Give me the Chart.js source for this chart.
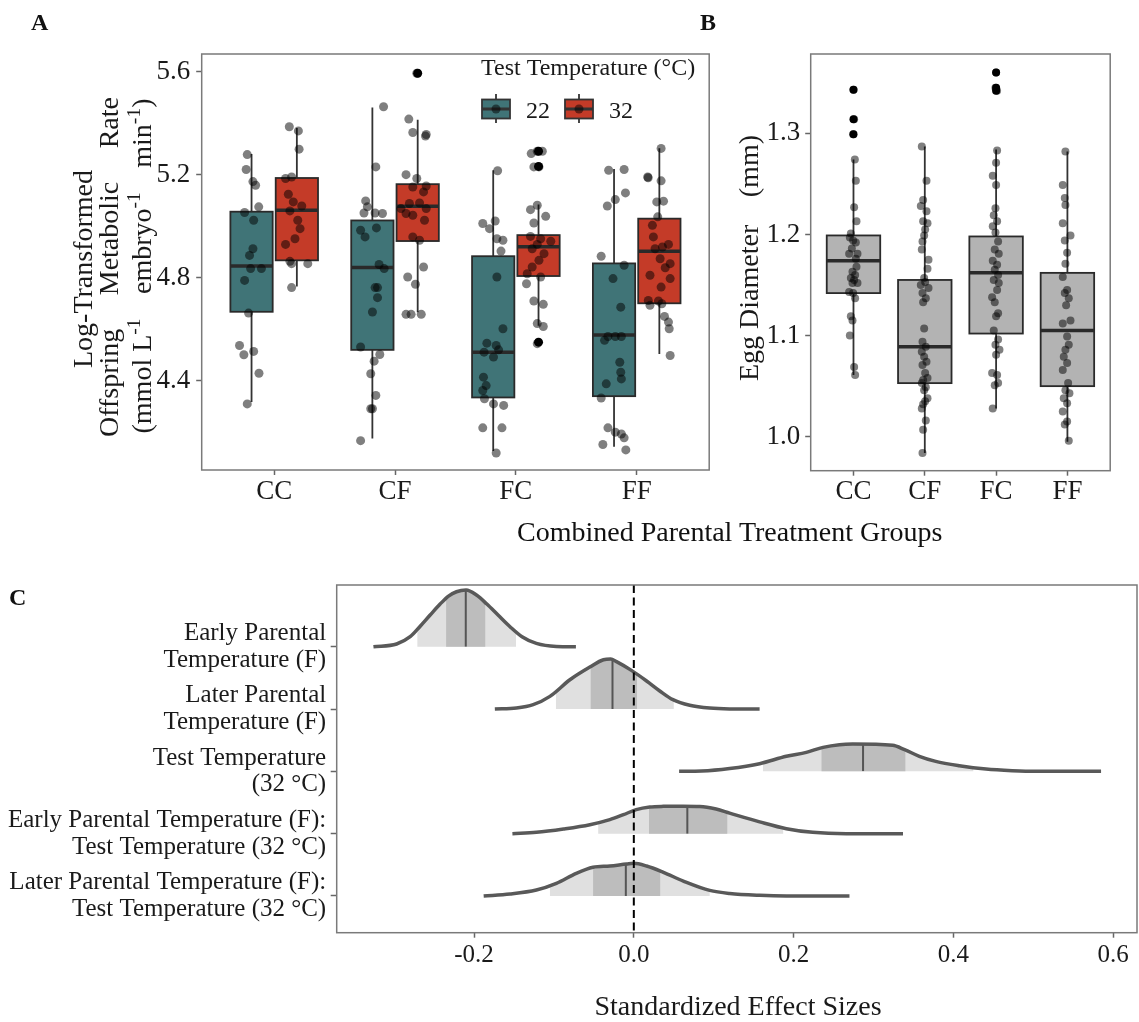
<!DOCTYPE html>
<html>
<head>
<meta charset="utf-8">
<script src="https://cdn.jsdelivr.net/npm/chart.js@4.4.1/dist/chart.umd.min.js"></script>
<style>
  body { margin: 0; background: #fff; }
  #wrap { position: relative; width: 1139px; height: 1022px; overflow: hidden; font-family: 'Liberation Serif', 'Times New Roman', serif; color: #111; }
  canvas { position: absolute; }
  .lbl { position: absolute; line-height: 1; white-space: nowrap; }
</style>
</head>
<body>
<div id="wrap">
  <canvas id="chartA" width="720" height="560" style="left:0;top:0"></canvas>
  <canvas id="chartB" width="419" height="560" style="left:720px;top:0"></canvas>
  <canvas id="chartC" width="1139" height="452" style="left:0;top:570px"></canvas>
  <div class="lbl" style="left:31px;top:10px;font-size:24px;font-weight:bold">A</div>
  <div class="lbl" style="left:700px;top:10px;font-size:24px;font-weight:bold">B</div>
  <div class="lbl" style="left:9px;top:585px;font-size:24px;font-weight:bold">C</div>
  <div class="lbl" style="left:517px;top:518px;font-size:28px">Combined Parental Treatment Groups</div>
</div>
<script>
'use strict';

const groups = ['CC', 'CF', 'FC', 'FF'];
const temps = ['22', '32'];
const tickA = [4.4, 4.8, 5.2, 5.6];
const tickB = [1.0, 1.1, 1.2, 1.3];
const tickC = [-0.2, 0.0, 0.2, 0.4, 0.6];

// [lower whisker, q1, median, q3, upper whisker] per group
const box22 = [[4.316, 4.667, 4.845, 5.056, 5.28], [4.174, 4.519, 4.839, 5.022, 5.461], [4.126, 4.334, 4.51, 4.883, 5.217], [4.142, 4.339, 4.577, 4.855, 5.222]];
const box32 = [[4.765, 4.867, 5.062, 5.187, 5.381], [4.665, 4.942, 5.077, 5.163, 5.413], [4.613, 4.806, 4.92, 4.965, 5.084], [4.503, 4.70, 4.902, 5.029, 5.303]];
// outliers: [group, value]
const out32 = [[2, 5.594], [3, 5.291], [3, 5.232], [3, 4.549]];

const pts22 = [
  [0.777, 5.278], [0.768, 5.220], [0.824, 5.173], [0.846, 5.159], [0.872, 5.075], [0.755, 5.053], [0.830, 5.023], [0.824, 4.912], [0.796, 4.886], [0.805, 4.835], [0.894, 4.835], [0.755, 4.789], [0.788, 4.662], [0.713, 4.536], [0.749, 4.500], [0.830, 4.513], [0.874, 4.428], [0.777, 4.309],
  [1.905, 5.464], [1.841, 5.230], [1.757, 5.098], [1.771, 5.075], [1.743, 5.051], [1.835, 5.051], [1.896, 5.049], [1.846, 4.993], [1.715, 4.984], [1.752, 4.958], [1.868, 4.851], [1.910, 4.835], [1.835, 4.761], [1.855, 4.761], [1.855, 4.722], [1.813, 4.666], [1.715, 4.530], [1.874, 4.501], [1.827, 4.475], [1.799, 4.426], [1.841, 4.342], [1.799, 4.290], [1.813, 4.290], [1.715, 4.166],
  [2.849, 5.215], [2.726, 5.010], [2.829, 5.020], [2.782, 4.990], [2.843, 4.951], [2.893, 4.945], [2.877, 4.903], [2.843, 4.802], [2.893, 4.601], [2.760, 4.545], [2.837, 4.536], [2.857, 4.519], [2.737, 4.510], [2.815, 4.491], [2.732, 4.413], [2.754, 4.380], [2.726, 4.361], [2.740, 4.329], [2.815, 4.309], [2.899, 4.303], [2.726, 4.216], [2.885, 4.216], [2.837, 4.118],
  [3.768, 5.217], [3.896, 5.220], [3.907, 5.129], [3.823, 5.103], [3.757, 5.078], [3.706, 4.883], [3.896, 4.848], [3.804, 4.796], [3.868, 4.685], [3.762, 4.571], [3.823, 4.571], [3.873, 4.571], [3.734, 4.556], [3.860, 4.471], [3.868, 4.432], [3.873, 4.406], [3.748, 4.387], [3.706, 4.332], [3.762, 4.216], [3.823, 4.199], [3.873, 4.192], [3.896, 4.177], [3.720, 4.151], [3.910, 4.130]
];
const pts32 = [
  [1.125, 5.386], [1.200, 5.370], [1.206, 5.299], [1.094, 5.185], [1.144, 5.191], [1.117, 5.124], [1.158, 5.094], [1.228, 5.078], [1.130, 5.059], [1.195, 5.023], [1.214, 4.990], [1.172, 4.951], [1.094, 4.929], [1.130, 4.863], [1.278, 4.854], [1.144, 4.854], [1.144, 4.761],
  [2.180, 5.594], [2.114, 5.416], [2.147, 5.364], [2.258, 5.356], [2.252, 5.350], [2.091, 5.200], [2.180, 5.185], [2.258, 5.156], [2.147, 5.152], [2.236, 5.133], [2.203, 5.090], [2.119, 5.088], [2.049, 5.068], [2.258, 5.068], [2.091, 5.049], [2.147, 5.042], [2.244, 5.023], [2.147, 4.958], [2.203, 4.945], [2.236, 4.841], [2.105, 4.802], [2.169, 4.774], [2.091, 4.657], [2.133, 4.657], [2.217, 4.657],
  [3.177, 5.291], [3.127, 5.282], [3.219, 5.291], [3.149, 5.230], [3.191, 5.230], [3.177, 5.081], [3.121, 5.064], [3.247, 5.038], [3.149, 5.012], [3.121, 4.960], [3.205, 4.951], [3.289, 4.941], [3.177, 4.929], [3.135, 4.912], [3.233, 4.893], [3.191, 4.867], [3.135, 4.841], [3.094, 4.815], [3.205, 4.802], [3.088, 4.776], [3.149, 4.709], [3.227, 4.696], [3.177, 4.621], [3.227, 4.610], [3.177, 4.543],
  [4.202, 5.302], [4.091, 5.191], [4.095, 5.188], [4.202, 5.176], [4.166, 5.094], [4.222, 5.097], [4.174, 5.036], [4.130, 5.003], [4.138, 4.958], [4.213, 4.919], [4.263, 4.929], [4.152, 4.912], [4.194, 4.873], [4.277, 4.854], [4.236, 4.838], [4.110, 4.809], [4.277, 4.796], [4.202, 4.763], [4.096, 4.711], [4.180, 4.709], [4.208, 4.698], [4.110, 4.692], [4.230, 4.649], [4.263, 4.627], [4.269, 4.601], [4.277, 4.497]
];

const boxEgg = [[1.061, 1.142, 1.174, 1.199, 1.274], [0.984, 1.053, 1.089, 1.155, 1.287], [1.028, 1.102, 1.162, 1.198, 1.284], [0.995, 1.050, 1.105, 1.162, 1.282]];
const outEgg = [[1, 1.343], [1, 1.314], [1, 1.299], [3, 1.360], [3, 1.345], [3, 1.342]];
const ptsEgg = [
  [1.000, 1.343], [1.009, 1.314], [0.995, 1.299], [1.019, 1.274], [1.033, 1.253], [1.009, 1.227], [1.042, 1.213], [0.963, 1.201], [0.949, 1.197], [0.995, 1.194], [1.033, 1.192], [0.977, 1.186], [0.939, 1.181], [1.056, 1.181], [1.033, 1.176], [1.042, 1.168], [0.986, 1.163], [1.023, 1.160], [0.963, 1.157], [1.009, 1.155], [0.986, 1.152], [1.056, 1.152], [0.939, 1.143], [0.995, 1.142], [1.023, 1.137], [0.963, 1.119], [0.986, 1.115], [0.949, 1.100], [1.009, 1.069], [1.023, 1.061],
  [1.958, 1.287], [2.024, 1.253], [1.977, 1.234], [1.944, 1.228], [2.024, 1.223], [1.977, 1.213], [2.038, 1.211], [2.005, 1.205], [1.991, 1.199], [1.968, 1.193], [1.958, 1.185], [2.052, 1.175], [2.038, 1.166], [1.991, 1.157], [2.005, 1.153], [1.944, 1.150], [2.052, 1.147], [1.968, 1.142], [2.014, 1.137], [1.977, 1.133], [1.991, 1.107], [1.968, 1.094], [2.014, 1.089], [1.958, 1.084], [1.991, 1.079], [2.024, 1.074], [1.968, 1.071], [2.005, 1.063], [2.038, 1.058], [1.977, 1.056], [1.958, 1.053], [2.014, 1.049], [1.991, 1.046], [2.038, 1.038], [2.005, 1.035], [1.977, 1.032], [1.958, 1.028], [2.014, 1.016], [1.977, 1.007], [1.968, 0.984],
  [3.000, 1.360], [2.991, 1.345], [3.014, 1.342], [3.014, 1.283], [3.000, 1.271], [2.953, 1.258], [3.000, 1.249], [2.991, 1.226], [2.967, 1.219], [3.014, 1.213], [2.953, 1.208], [2.991, 1.202], [3.028, 1.193], [2.981, 1.185], [3.037, 1.181], [2.953, 1.174], [3.014, 1.170], [2.981, 1.165], [3.028, 1.160], [2.967, 1.155], [3.037, 1.152], [3.014, 1.145], [2.944, 1.138], [2.981, 1.133], [3.028, 1.122], [3.000, 1.119], [2.967, 1.105], [3.028, 1.096], [2.991, 1.091], [3.047, 1.086], [3.000, 1.081], [2.944, 1.063], [3.014, 1.061], [2.981, 1.051], [3.028, 1.053], [2.953, 1.028],
  [3.972, 1.282], [3.935, 1.249], [3.963, 1.236], [3.972, 1.229], [3.935, 1.211], [4.043, 1.199], [3.963, 1.194], [3.996, 1.182], [3.972, 1.171], [3.935, 1.158], [3.996, 1.145], [3.963, 1.142], [4.019, 1.137], [3.982, 1.130], [3.935, 1.112], [4.043, 1.115], [3.996, 1.099], [4.019, 1.091], [3.972, 1.086], [3.949, 1.079], [3.996, 1.073], [3.935, 1.066], [4.010, 1.053], [3.972, 1.046], [4.028, 1.043], [3.949, 1.038], [3.996, 1.033], [3.935, 1.025], [3.996, 1.015], [3.963, 1.012], [4.019, 0.996]
];

// panel C, top row first
const effects = [
  ['Early Parental', 'Temperature (F)'],
  ['Later Parental', 'Temperature (F)'],
  ['Test Temperature', '(32 °C)'],
  ['Early Parental Temperature (F):', 'Test Temperature (32 °C)'],
  ['Later Parental Temperature (F):', 'Test Temperature (32 °C)']
];
// [effect size, ridge height]
const ridgeEarly = [[-0.326, 0], [-0.297, 0.043], [-0.280, 0.160], [-0.268, 0.321], [-0.255, 0.508], [-0.2425, 0.684], [-0.232, 0.813], [-0.222, 0.882], [-0.210, 0.909], [-0.197, 0.829], [-0.184, 0.684], [-0.170, 0.508], [-0.155, 0.321], [-0.140, 0.160], [-0.122, 0.053], [-0.097, 0.005], [-0.0725, 0]];
const ridgeLater = [[-0.174, 0], [-0.147, 0.016], [-0.126, 0.070], [-0.105, 0.203], [-0.080, 0.470], [-0.055, 0.674], [-0.038, 0.791], [-0.029, 0.802], [-0.0217, 0.760], [-0.003, 0.620], [0.016, 0.450], [0.0325, 0.290], [0.049, 0.150], [0.070, 0.060], [0.095, 0.015], [0.120, 0.002], [0.1575, 0]];
const ridgeTest = [[0.0567, 0], [0.085, 0.005], [0.12, 0.045], [0.1575, 0.123], [0.191, 0.241], [0.216, 0.305], [0.237, 0.385], [0.2575, 0.428], [0.274, 0.438], [0.324, 0.417], [0.339, 0.348], [0.3575, 0.241], [0.378, 0.160], [0.4075, 0.091], [0.441, 0.037], [0.474, 0.011], [0.503, 0], [0.585, 0]];
const ridgeEarlyTest = [[-0.152, 0], [-0.122, 0.021], [-0.088, 0.075], [-0.055, 0.144], [-0.030, 0.225], [-0.013, 0.305], [0.003, 0.385], [0.020, 0.428], [0.037, 0.438], [0.062, 0.440], [0.0825, 0.436], [0.103, 0.395], [0.12, 0.33], [0.1575, 0.19], [0.191, 0.08], [0.224, 0.021], [0.266, 0], [0.337, 0]];
const ridgeLaterTest = [[-0.188, 0], [-0.155, 0.032], [-0.122, 0.096], [-0.097, 0.203], [-0.072, 0.364], [-0.051, 0.460], [-0.030, 0.481], [-0.009, 0.513], [0.0, 0.524], [0.016, 0.481], [0.037, 0.380], [0.062, 0.240], [0.095, 0.090], [0.12, 0.040], [0.1575, 0.010], [0.191, 0], [0.27, 0]];
const ridges = [ridgeEarly, ridgeLater, ridgeTest, ridgeEarlyTest, ridgeLaterTest];
// [outer low, inner low, median, inner high, outer high]
const bands = [[-0.271, -0.235, -0.2104, -0.186, -0.1475], [-0.0975, -0.054, -0.0267, 0.004, 0.050], [0.1617, 0.235, 0.287, 0.340, 0.425], [-0.0446, 0.019, 0.067, 0.117, 0.187], [-0.105, -0.051, -0.010, 0.033, 0.095]];

const serif = "'Liberation Serif', 'Times New Roman', serif";
const teal = '#407477';
const red = '#c43b28';
const ink = '#1a1a1a';

function fixTicks(values) {
  return scale => { scale.ticks = values.map(v => ({ value: v })); };
}

function axis(min, max, values, label, size, pad, fitKey, fitVal, tickLen) {
  return {
    type: 'linear', min: min, max: max,
    afterBuildTicks: fixTicks(values),
    afterFit: s => {
      s[fitKey] = fitVal;
      s.paddingTop = 0; s.paddingBottom = 0; s.paddingLeft = 0; s.paddingRight = 0;
    },
    ticks: { callback: label, font: { family: serif, size: size, lineHeight: 1.07 }, color: ink, padding: pad, autoSkip: false, maxRotation: 0 },
    grid: { drawOnChartArea: false, tickLength: tickLen, tickColor: '#666', tickWidth: 1.5 },
    border: { display: false }
  };
}

const frame = {
  id: 'frame',
  afterDraw(chart) {
    const { ctx, chartArea: a } = chart;
    ctx.save();
    ctx.strokeStyle = '#7a7a7a';
    ctx.lineWidth = 1.5;
    ctx.strokeRect(a.left, a.top, a.right - a.left, a.bottom - a.top);
    ctx.restore();
  }
};

function boxLayer(series) {
  return {
    id: 'boxLayer',
    beforeDatasetsDraw(chart) {
      const { ctx, scales: { x, y } } = chart;
      ctx.save();
      series.forEach(s => {
        s.stats.forEach((st, i) => {
          const c = i + 1 + s.shift;
          const l = x.getPixelForValue(c - s.width / 2);
          const r = x.getPixelForValue(c + s.width / 2);
          const m = x.getPixelForValue(c);
          const [lo, q1, med, q3, hi] = st.map(v => y.getPixelForValue(v));
          ctx.strokeStyle = '#333';
          ctx.lineWidth = 1.8;
          ctx.beginPath();
          ctx.moveTo(m, lo); ctx.lineTo(m, q1);
          ctx.moveTo(m, q3); ctx.lineTo(m, hi);
          ctx.stroke();
          ctx.fillStyle = s.fill;
          ctx.fillRect(l, q3, r - l, q1 - q3);
          ctx.strokeStyle = '#2a2a2a';
          ctx.strokeRect(l, q3, r - l, q1 - q3);
          ctx.lineWidth = 3.5;
          ctx.beginPath(); ctx.moveTo(l, med); ctx.lineTo(r, med); ctx.stroke();
        });
      });
      ctx.restore();
    }
  };
}

function runWidth(ctx, run, size) {
  return run.reduce((w, [t, sup]) => {
    ctx.font = (sup ? size * 0.7 : size) + 'px ' + serif;
    return w + ctx.measureText(t).width;
  }, 0);
}

function drawRun(ctx, run, x, size) {
  run.forEach(([t, sup]) => {
    ctx.font = (sup ? size * 0.7 : size) + 'px ' + serif;
    ctx.fillText(t, x, sup ? -size * 0.4 : 0);
    x += ctx.measureText(t).width;
  });
}

function justifyRotated(ctx, chunks, bx, cy, span, size) {
  const widths = chunks.map(c => runWidth(ctx, c, size));
  const total = widths.reduce((a, b) => a + b, 0);
  const many = chunks.length > 1;
  const len = many ? span : total;
  const gap = many ? (span - total) / (chunks.length - 1) : 0;
  ctx.save();
  ctx.translate(bx, cy);
  ctx.rotate(-Math.PI / 2);
  ctx.fillStyle = ink;
  ctx.textAlign = 'left';
  ctx.textBaseline = 'alphabetic';
  let x = -len / 2;
  chunks.forEach((c, i) => { drawRun(ctx, c, x, size); x += widths[i] + gap; });
  ctx.restore();
}

const titleA = {
  id: 'titleA',
  afterDraw(chart) {
    const ctx = chart.ctx;
    justifyRotated(ctx, [[['Log-Transformed']]], 92, 269, 0, 28);
    justifyRotated(ctx, [[['Offspring']], [['Metabolic']], [['Rate']]], 118, 267, 340, 28);
    justifyRotated(ctx, [[['(mmol L'], ['-1', 1]], [['embryo'], ['-1', 1]], [['min'], ['-1', 1], [')']]], 151, 266, 335, 28);

    // legend
    ctx.save();
    ctx.fillStyle = ink;
    ctx.font = '24px ' + serif;
    ctx.textBaseline = 'alphabetic';
    ctx.fillText('Test Temperature (°C)', 481, 75);
    const keyX = [482, 565];
    [teal, red].forEach((fill, i) => {
      const kx = keyX[i];
      ctx.strokeStyle = '#333';
      ctx.lineWidth = 1.8;
      ctx.beginPath(); ctx.moveTo(kx + 14, 94); ctx.lineTo(kx + 14, 123); ctx.stroke();
      ctx.fillStyle = fill;
      ctx.fillRect(kx, 99.5, 28, 19);
      ctx.strokeRect(kx, 99.5, 28, 19);
      ctx.lineWidth = 3;
      ctx.beginPath(); ctx.moveTo(kx, 109); ctx.lineTo(kx + 28, 109); ctx.stroke();
      ctx.fillStyle = 'rgba(0,0,0,0.5)';
      ctx.beginPath(); ctx.arc(kx + 14, 109, 4.5, 0, Math.PI * 2); ctx.fill();
      ctx.fillStyle = ink;
      ctx.font = '24px ' + serif;
      ctx.fillText(temps[i], kx + 44, 117.5);
    });
    ctx.restore();
  }
};

const titleB = {
  id: 'titleB',
  afterDraw(chart) {
    justifyRotated(chart.ctx, [[['Egg Diameter']], [['(mm)']]], 38, 258, 246, 28);
  }
};

const common = {
  responsive: false,
  animation: false,
  events: [],
  plugins: { legend: { display: false }, tooltip: { enabled: false } }
};

function dots(list, r, color, shift) {
  return {
    data: list.map(([x, y]) => ({ x: x + (shift || 0), y: y })),
    pointRadius: r, pointBackgroundColor: color, pointBorderWidth: 0, pointHoverRadius: r
  };
}

new Chart(document.getElementById('chartA'), {
  type: 'scatter',
  data: { datasets: [dots(out32, 4.5, '#000', 0.1875), dots(pts22, 4.5, 'rgba(0,0,0,0.5)'), dots(pts32, 4.5, 'rgba(0,0,0,0.5)')] },
  options: Object.assign({}, common, {
    layout: { padding: { left: 0, top: 54, right: 10.8, bottom: 0 } },
    scales: {
      x: axis(0.4, 4.6, [1, 2, 3, 4], v => groups[Math.round(v) - 1], 27, 2, 'height', 90, 5),
      y: axis(4.052, 5.669, tickA, v => v.toFixed(1), 27, 6, 'width', 201.7, 5.5)
    }
  }),
  plugins: [boxLayer([{ stats: box22, shift: -0.1875, width: 0.35, fill: teal }, { stats: box32, shift: 0.1875, width: 0.35, fill: red }]), frame, titleA]
});

new Chart(document.getElementById('chartB'), {
  type: 'scatter',
  data: { datasets: [dots(outEgg, 4, '#000'), dots(ptsEgg, 4, 'rgba(0,0,0,0.5)')] },
  options: Object.assign({}, common, {
    layout: { padding: { left: 0, top: 54, right: 28.8, bottom: 0 } },
    scales: {
      x: axis(0.4, 4.6, [1, 2, 3, 4], v => groups[Math.round(v) - 1], 27, 2, 'height', 89.3, 5),
      y: axis(0.9664, 1.3784, tickB, v => v.toFixed(1), 27, 5, 'width', 90.7, 5.5)
    }
  }),
  plugins: [boxLayer([{ stats: boxEgg, shift: 0, width: 0.75, fill: '#b3b3b3' }]), frame, titleB]
});

const ridgeLayer = {
  id: 'ridgeLayer',
  beforeDatasetsDraw(chart) {
    const { ctx, chartArea: a, scales: { x, y } } = chart;
    ridges.forEach((r, i) => {
      const meta = chart.getDatasetMeta(i);
      if (meta.dataset && meta.dataset.updateControlPoints) meta.dataset.updateControlPoints(a, 'x');
      const pts = meta.data;
      const base = y.getPixelForValue(effects.length - i);
      const area = new Path2D();
      area.moveTo(pts[0].x, base);
      area.lineTo(pts[0].x, pts[0].y);
      for (let k = 1; k < pts.length; k++) {
        const p = pts[k - 1], q = pts[k];
        if (p.cp2x !== undefined && q.cp1x !== undefined) area.bezierCurveTo(p.cp2x, p.cp2y, q.cp1x, q.cp1y, q.x, q.y);
        else area.lineTo(q.x, q.y);
      }
      area.lineTo(pts[pts.length - 1].x, base);
      area.closePath();
      const [o1, i1, med, i2, o2] = bands[i].map(v => x.getPixelForValue(v));
      ctx.save();
      ctx.clip(area);
      ctx.fillStyle = '#e0e0e0';
      ctx.fillRect(o1, a.top, o2 - o1, base - a.top + 1);
      ctx.fillStyle = '#bdbdbd';
      ctx.fillRect(i1, a.top, i2 - i1, base - a.top + 1);
      ctx.strokeStyle = '#555';
      ctx.lineWidth = 2;
      ctx.beginPath(); ctx.moveTo(med, base); ctx.lineTo(med, a.top); ctx.stroke();
      ctx.restore();
    });
  },
  afterDatasetsDraw(chart) {
    const { ctx, chartArea: a, scales: { x } } = chart;
    const zx = x.getPixelForValue(0);
    ctx.save();
    ctx.strokeStyle = '#000';
    ctx.lineWidth = 2;
    ctx.setLineDash([8, 4.5]);
    ctx.beginPath(); ctx.moveTo(zx, a.top); ctx.lineTo(zx, a.bottom); ctx.stroke();
    ctx.restore();
  },
  afterDraw(chart) {
    const ctx = chart.ctx;
    ctx.save();
    ctx.fillStyle = ink;
    ctx.font = '28px ' + serif;
    ctx.textAlign = 'center';
    ctx.textBaseline = 'alphabetic';
    ctx.fillText('Standardized Effect Sizes', 738, 445);
    ctx.restore();
  }
};

new Chart(document.getElementById('chartC'), {
  type: 'line',
  data: {
    datasets: ridges.map((r, i) => ({
      data: r.map(([x, h]) => ({ x: x, y: effects.length - i + h })),
      borderColor: '#595959', borderWidth: 3.5, pointRadius: 0, fill: false,
      cubicInterpolationMode: 'monotone'
    }))
  },
  options: Object.assign({}, common, {
    layout: { padding: { left: 0, top: 15, right: 2, bottom: 0 } },
    scales: {
      x: axis(-0.372, 0.630, tickC, v => v.toFixed(1), 25, 4, 'height', 89.3, 5),
      y: axis(0.411, 5.99, [1, 2, 3, 4, 5], v => effects[effects.length - Math.round(v)], 25, 4.5, 'width', 336.7, 6)
    }
  }),
  plugins: [ridgeLayer, frame]
});
</script>
</body>
</html>
